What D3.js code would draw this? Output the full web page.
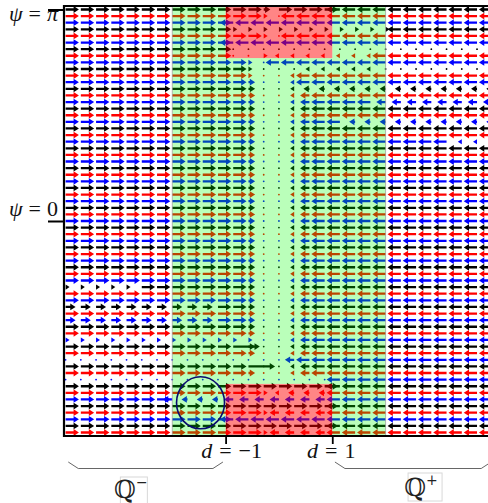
<!DOCTYPE html>
<html>
<head>
<meta charset="utf-8">
<script src="https://cdn.jsdelivr.net/npm/d3@7"></script>
<style>
  body { margin: 0; background: #fff; }
  svg { display: block; }
</style>
</head>
<body>
<svg id="chart" width="488" height="503"></svg>
<script>
// ---- grid of the vector field: columns in d, rows in psi ----
const dValues = d3.range(29).map(i => -4 + 2 * i / 7);
const psiValues = d3.range(65).map(k => Math.PI - k * Math.PI / 32);
const rowColors = ["#000000", "#ff0000", "#0000ff"];

// horizontal component of each arrow, coded per cell
const levelU = { R: 1, r: 0.75, h: 0.5, s: 0.3, ".": 0.04, "<": -0.3, m: -0.45, l: -0.7, L: -1, W: 2 };
const G = "RRRRRRRRRRRRh..<lLLLLLLLLLLLL";
const fieldRows = [
  "RRRRRRRRRRRRRhRRRRLLLLLLLLLLL", // psi = pi
  "RRRRRRRRRRRRRs.LLLLLLLLLLLLLL",
  "RRRRRRRRRRRLLLLLLLLLLLLLLLLLL",
  "RRRRRRRRRRRsssssssssssLLLLLLL",
  "RRRRRRRRRRRRRs.LLLLLLLLLLLLLL",
  "RRRRRRRRRRRLLLLLLLLLLLLLLLLLL",
  "RRRRRRRRRRR..................",
  "RRRRRRRRRRR..s<<<<<<<LLLLLLLL",
  "RRRRRRRRRRRRs.LLLLLLLLLLLLLLL",
  "RRRRRRRRRRRRs...<<<<<........",
  "RRRRRRRRRRRRs..<LLLLLLLLLLLLL",
  "RRRRRRRRRRRRh..<LLLLLLLLLLLLL",
  "RRRRRRRRRRRRh..<mmmmmmmmmmmmm",
  G,
  "RRRRRRRRRRRRh..<lLLLLllllllll",
  G,
  G,
  "RRRRRRRRRRRRh..<lLLmmmmmmmmmm",
  G,
  G,
  "RRRRRRRRRRRRh..<lLLLLLLLLL<<<",
  G, G, G, G, G, G, G, G, G, G, G,
  G, // psi = 0
  G, G, G, G, G, G, G, G, G,
  "sssssRRRRRRRh..<lLLLLLLLLLLLL",
  G,
  G,
  "rrrrrrrrrrRRh..<lLLLLLLLLLLLL",
  G,
  "rrrrrrrrrrRRh..<lLLLLLLLLLLLL",
  G,
  G,
  "sssssssssssss..<lLLLLLLLLLLLL",
  "RRRRRRRRRRRWh..<lLLLLLLLLLLLL",
  G,
  "...............lLLLLLLLLLLLLL",
  "RRRRRRRRRRRRW..<lLLLLLLLLLLLL",
  G,
  "..................LLLLLLLLLLL",
  "RRRRRRRRRRRRRRRRRRLLLLLLLLLLL",
  "RRRRRRRRRRRRRs<mmmLLLLLLLLLLL",
  "RRRRRRRlmmmlllllllLLLLLLLLLLL",
  "RRRRRRRRRRRRRRRRRRLLLLLLLLLLL",
  "RRRRRRRRRRRRRsllllLLLLLLLLLLL",
  "RRRRRRRRRRRLLLLLLLLLLLLLLLLLL",
  "RRRRRRRRRRRRRRRRRRLLLLLLLLLLL",
  "RRRRRRRRRRRRRsllllLLLLLLLLLLL"  // psi = -pi
];

// shaded regions
const greenBand = [-2, 2];
const redBand = [-1, 1];
const redPsiEdge = 2.42;

// axis marks
const psiTicks = [Math.PI, 0];
const psiTickLabels = ["π", "0"];
const dTicks = [-1, 1];
const dTickLabels = ["−1", "1"];
const setLabels = ["−", "+"];

// ---- drawing ----
const svg = d3.select("#chart");
const x = d3.scaleLinear().domain([-4.03, 3.92]).range([64, 488]);
const y = d3.scaleLinear().domain([-Math.PI - 0.052, Math.PI + 0.052]).range([436, 6]);
const unitLen = 13.3;   // px for |u| = 1

function arrowPath(L) {
  const hl = 5.3, hw = 3.4, sw = 1.15;
  if (L <= hl) {
    const w = Math.max(1.4, hw * L / hl);
    return `M0,${-w}L${L},0L0,${w}Z`;
  }
  return `M0,${-sw}L${L - hl},${-sw}L${L - hl},${-hw}L${L},0L${L - hl},${hw}L${L - hl},${sw}L0,${sw}Z`;
}

const cells = [];
fieldRows.forEach((row, k) => {
  row.split("").forEach((c, i) => {
    cells.push({ d: dValues[i], psi: psiValues[k], u: levelU[c], color: rowColors[k % 3] });
  });
});

const field = svg.append("g");
field.selectAll("g.cell")
  .data(cells)
  .join("g")
  .attr("class", "cell")
  .attr("transform", c => `translate(${x(c.d)},${y(c.psi)}) rotate(${c.u < 0 ? 180 : 0})`)
  .each(function (c) {
    const L = Math.abs(c.u) * unitLen;
    const g = d3.select(this);
    if (L < 1.2) {
      g.append("circle").attr("r", 0.9).attr("fill", c.color);
    } else {
      g.append("path").attr("d", arrowPath(L)).attr("fill", c.color);
    }
  });

// translucent overlays
const psiTop = y.domain()[1], psiBot = y.domain()[0];
const greenRects = [
  [greenBand[0], redBand[0], psiBot, psiTop],
  [redBand[1], greenBand[1], psiBot, psiTop],
  [redBand[0], redBand[1], -redPsiEdge, redPsiEdge]
];
const redRects = [
  [redBand[0], redBand[1], redPsiEdge, psiTop],
  [redBand[0], redBand[1], psiBot, -redPsiEdge]
];
svg.append("g").selectAll("rect").data(greenRects).join("rect")
  .attr("x", r => x(r[0])).attr("width", r => x(r[1]) - x(r[0]))
  .attr("y", r => y(r[3])).attr("height", r => y(r[2]) - y(r[3]))
  .attr("fill", "#00ff00").attr("fill-opacity", 0.27);
svg.append("g").selectAll("rect").data(redRects).join("rect")
  .attr("x", r => x(r[0])).attr("width", r => x(r[1]) - x(r[0]))
  .attr("y", r => y(r[3])).attr("height", r => y(r[2]) - y(r[3]))
  .attr("fill", "#ff0000").attr("fill-opacity", 0.48);
svg.append("g").selectAll("line").data(greenBand).join("line")
  .attr("x1", d => x(d)).attr("x2", d => x(d))
  .attr("y1", y(psiTop)).attr("y2", y(psiBot))
  .attr("stroke", "#9a9a9a").attr("stroke-width", 1).attr("stroke-opacity", 0.7);

// highlighted spot
svg.append("ellipse")
  .attr("cx", x(-1.47)).attr("cy", y(-2.70)).attr("rx", 24).attr("ry", 26)
  .attr("fill", "none").attr("stroke", "#0a0a6e").attr("stroke-width", 1.6);

// frame
svg.append("path")
  .attr("d", `M488,${y(psiTop)}H${x.range()[0]}V${y(psiBot)}H488`)
  .attr("fill", "none").attr("stroke", "#000").attr("stroke-width", 2.2);

// axes
const yAxis = d3.axisLeft(y).tickValues(psiTicks).tickSize(16).tickFormat("");
const yAx = svg.append("g").attr("transform", `translate(${x.range()[0]},0)`).call(yAxis);
yAx.select(".domain").remove();
yAx.selectAll(".tick line").attr("stroke-width", 2);

const xAxis = d3.axisBottom(x).tickValues(dTicks).tickSize(8).tickFormat("");
const xAx = svg.append("g").attr("transform", `translate(0,${y(psiBot)})`).call(xAxis);
xAx.select(".domain").remove();
xAx.selectAll(".tick line").attr("stroke-width", 1.8);

const serif = "'Liberation Serif', 'DejaVu Serif', serif";
psiTicks.forEach((v, j) => {
  const t = svg.append("text")
    .attr("x", 58).attr("y", y(v) + (j === 0 ? 11 : -5))
    .attr("text-anchor", "end")
    .attr("font-family", serif).attr("font-size", 22).attr("fill", "#111");
  t.append("tspan").attr("font-style", "italic").text("ψ");
  t.append("tspan").attr("dx", 6).text("=");
  t.append("tspan").attr("dx", 6).attr("font-style", j === 0 ? "italic" : "normal").text(psiTickLabels[j]);
});
dTicks.forEach((v, j) => {
  const t = svg.append("text")
    .attr("x", x(v) + (j === 0 ? 6 : -1)).attr("y", 458)
    .attr("text-anchor", "middle")
    .attr("font-family", serif).attr("font-size", 22).attr("fill", "#111");
  t.append("tspan").attr("font-style", "italic").text("d");
  t.append("tspan").attr("dx", 7).text("=");
  t.append("tspan").attr("dx", 7).text(dTickLabels[j]);
});

// set braces
const braceY0 = 462, braceY1 = 468.5;
const braces = [[-3.95, -1.05], [1.05, 3.98]];
svg.append("g").selectAll("path").data(braces).join("path")
  .attr("d", b => `M${x(b[0])},${braceY0}L${x(b[0]) + 10},${braceY1}L${x(b[1]) - 10},${braceY1}L${x(b[1])},${braceY0}`)
  .attr("fill", "none").attr("stroke", "#666").attr("stroke-width", 1);

const setCenters = [-2.72, 2.74];
setCenters.forEach((c, j) => {
  const cx = x(c);
  const boxW = j === 0 ? 27 : 34;
  const boxTop = j === 0 ? 477 : 473;
  svg.append("rect")
    .attr("x", cx - boxW / 2).attr("y", boxTop).attr("width", boxW).attr("height", 28)
    .attr("fill", "#fff").attr("stroke", "#d8d8d8").attr("stroke-width", 1);
  const t = svg.append("text")
    .attr("x", cx - (j === 0 ? 3 : 4)).attr("y", boxTop + (j === 0 ? 21 : 23))
    .attr("text-anchor", "middle")
    .attr("font-family", "'DejaVu Serif', serif").attr("font-size", 25).attr("fill", "#222");
  t.append("tspan").text("ℚ");
  t.append("tspan").attr("dy", -11).attr("font-size", 14).text(setLabels[j]);
});
</script>
</body>
</html>
